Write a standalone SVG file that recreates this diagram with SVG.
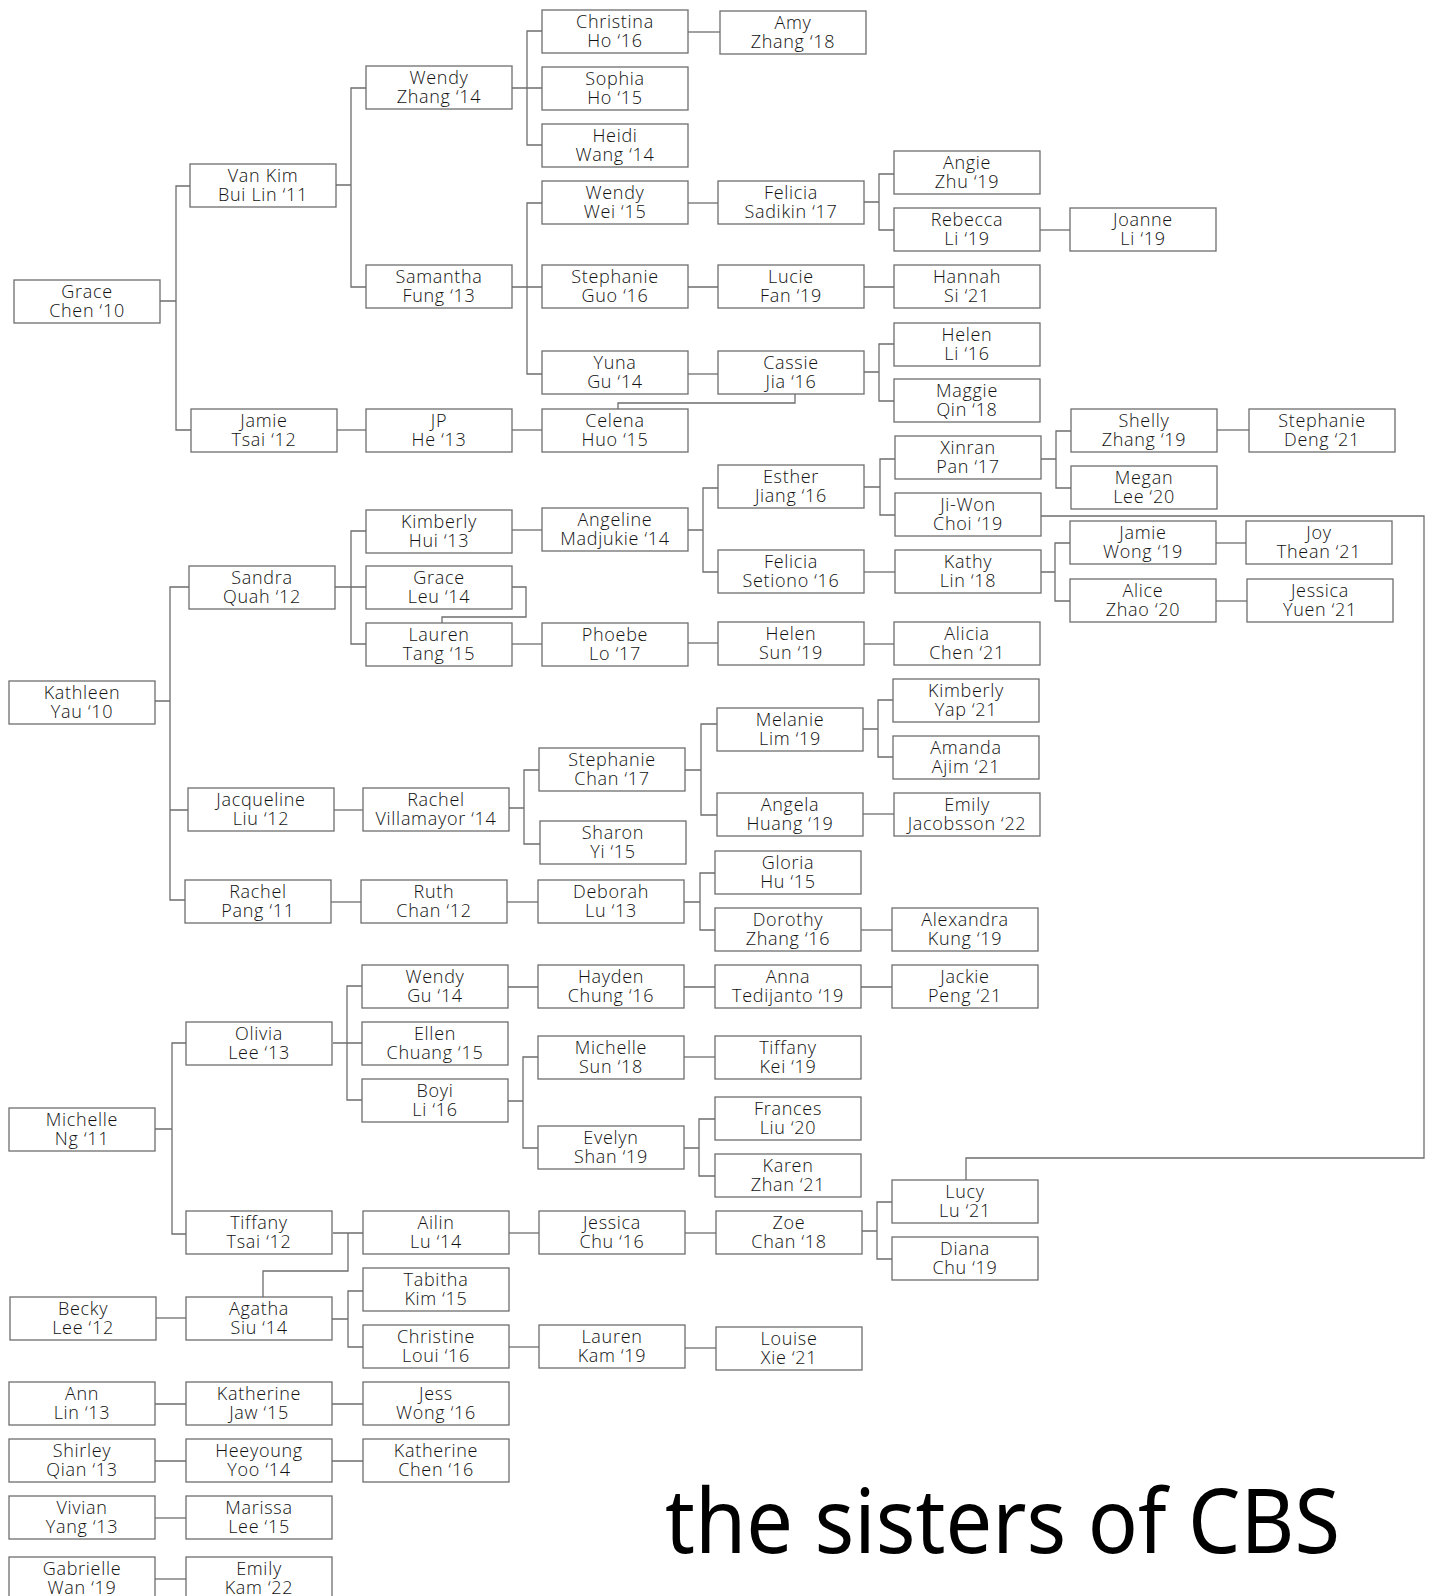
<svg xmlns="http://www.w3.org/2000/svg" width="1433" height="1596" viewBox="0 0 1433 1596">
<style>
.node rect{fill:#fff;stroke:#6e6e6e;stroke-width:1.3}
.node text{font-family:"Open Sans","Noto Sans","Liberation Sans",sans-serif;font-size:18px;font-weight:300;fill:#111;text-anchor:middle;letter-spacing:0.7px}
#connectors path{fill:none;stroke:#6e6e6e;stroke-width:1.3}
.title{font-family:"Noto Sans","DejaVu Sans",sans-serif;font-size:90px;fill:#000}
</style>
<rect width="1433" height="1596" fill="#fff"/>
<g id="connectors">
<path d="M160,301 H176 M190,186 H176 V430 H191"/>
<path d="M336,185 H351 M366,88 H351 V287 H366"/>
<path d="M337,430 H366"/>
<path d="M512,88 H527 M542,31 H527 V145 H542 M527,88 H542"/>
<path d="M688,32 H720"/>
<path d="M512,287 H527 M542,203 H527 V374 H542 M527,287 H542"/>
<path d="M688,203 H718"/>
<path d="M864,202 H879 M894,174 H879 V230 H894"/>
<path d="M1040,230 H1070"/>
<path d="M688,287 H718 M864,287 H894"/>
<path d="M688,374 H718"/>
<path d="M864,372 H879 M894,344 H879 V401 H894"/>
<path d="M795,394 V403 H618 V409"/>
<path d="M512,430 H542"/>
<path d="M1041,459 H1056 M1071,431 H1056 V488 H1071"/>
<path d="M1217,430 H1249"/>
<path d="M864,487 H880 M895,459 H880 V515 H895"/>
<path d="M1041,516 H1424 V1158 H966 V1180"/>
<path d="M688,530 H703 M718,488 H703 V572 H718"/>
<path d="M512,530 H542"/>
<path d="M335,587 H351 M366,531 H351 V644 H366 M351,587 H366"/>
<path d="M512,587 H526 V617 H442 V623"/>
<path d="M864,572 H895"/>
<path d="M1041,572 H1055 M1070,543 H1055 V601 H1070"/>
<path d="M1216,543 H1246"/>
<path d="M1216,601 H1247"/>
<path d="M512,644 H542"/>
<path d="M688,643 H718"/>
<path d="M864,644 H894"/>
<path d="M155,701 H170 M189,587 H170 V900 H185 M170,810 H188"/>
<path d="M334,810 H363"/>
<path d="M509,808 H524 M539,770 H524 V844 H540"/>
<path d="M685,770 H701 M717,724 H701 V815 H717"/>
<path d="M863,729 H878 M893,700 H878 V757 H893"/>
<path d="M863,814 H894"/>
<path d="M331,902 H361"/>
<path d="M507,902 H538"/>
<path d="M684,902 H700 M715,873 H700 V930 H715"/>
<path d="M861,930 H892"/>
<path d="M155,1129 H172 M186,1043 H172 V1234 H186"/>
<path d="M333,1043 H347 M362,986 H347 V1100 H362 M347,1043 H362"/>
<path d="M508,987 H538 M684,987 H715 M861,987 H892"/>
<path d="M508,1101 H523 M538,1057 H523 V1148 H538"/>
<path d="M684,1057 H715"/>
<path d="M684,1148 H699 M715,1119 H699 V1176 H715"/>
<path d="M333,1233 H363 M348,1233 V1271 H263 V1297"/>
<path d="M509,1233 H539"/>
<path d="M685,1233 H716"/>
<path d="M862,1231 H877 M892,1202 H877 V1259 H892"/>
<path d="M156,1318 H186"/>
<path d="M332,1319 H348 M363,1291 H348 V1347 H363"/>
<path d="M509,1347 H539"/>
<path d="M685,1348 H716"/>
<path d="M155,1404 H186 M332,1404 H363"/>
<path d="M155,1461 H186 M332,1461 H363"/>
<path d="M155,1518 H186"/>
<path d="M155,1579 H186"/>
</g>
<g id="grace-chen" class="node"><rect x="14" y="280" width="146" height="43"/><text><tspan x="87" y="298">Grace</tspan><tspan x="87" y="316.5">Chen ‘10</tspan></text></g>
<g id="van-kim-bui-lin" class="node"><rect x="190" y="164" width="146" height="43"/><text><tspan x="263" y="182">Van Kim</tspan><tspan x="263" y="200.5">Bui Lin ‘11</tspan></text></g>
<g id="jamie-tsai" class="node"><rect x="191" y="409" width="146" height="43"/><text><tspan x="264" y="427">Jamie</tspan><tspan x="264" y="445.5">Tsai ‘12</tspan></text></g>
<g id="wendy-zhang" class="node"><rect x="366" y="66" width="146" height="43"/><text><tspan x="439" y="84">Wendy</tspan><tspan x="439" y="102.5">Zhang ‘14</tspan></text></g>
<g id="samantha-fung" class="node"><rect x="366" y="265" width="146" height="43"/><text><tspan x="439" y="283">Samantha</tspan><tspan x="439" y="301.5">Fung ‘13</tspan></text></g>
<g id="jp-he" class="node"><rect x="366" y="409" width="146" height="43"/><text><tspan x="439" y="427">JP</tspan><tspan x="439" y="445.5">He ‘13</tspan></text></g>
<g id="christina-ho" class="node"><rect x="542" y="10" width="146" height="43"/><text><tspan x="615" y="28">Christina</tspan><tspan x="615" y="46.5">Ho ‘16</tspan></text></g>
<g id="sophia-ho" class="node"><rect x="542" y="67" width="146" height="43"/><text><tspan x="615" y="85">Sophia</tspan><tspan x="615" y="103.5">Ho ‘15</tspan></text></g>
<g id="heidi-wang" class="node"><rect x="542" y="124" width="146" height="43"/><text><tspan x="615" y="142">Heidi</tspan><tspan x="615" y="160.5">Wang ‘14</tspan></text></g>
<g id="wendy-wei" class="node"><rect x="542" y="181" width="146" height="43"/><text><tspan x="615" y="199">Wendy</tspan><tspan x="615" y="217.5">Wei ‘15</tspan></text></g>
<g id="stephanie-guo" class="node"><rect x="542" y="265" width="146" height="43"/><text><tspan x="615" y="283">Stephanie</tspan><tspan x="615" y="301.5">Guo ‘16</tspan></text></g>
<g id="yuna-gu" class="node"><rect x="542" y="351" width="146" height="43"/><text><tspan x="615" y="369">Yuna</tspan><tspan x="615" y="387.5">Gu ‘14</tspan></text></g>
<g id="celena-huo" class="node"><rect x="542" y="409" width="146" height="43"/><text><tspan x="615" y="427">Celena</tspan><tspan x="615" y="445.5">Huo ‘15</tspan></text></g>
<g id="amy-zhang" class="node"><rect x="720" y="11" width="146" height="43"/><text><tspan x="793" y="29">Amy</tspan><tspan x="793" y="47.5">Zhang ‘18</tspan></text></g>
<g id="felicia-sadikin" class="node"><rect x="718" y="181" width="146" height="43"/><text><tspan x="791" y="199">Felicia</tspan><tspan x="791" y="217.5">Sadikin ‘17</tspan></text></g>
<g id="lucie-fan" class="node"><rect x="718" y="265" width="146" height="43"/><text><tspan x="791" y="283">Lucie</tspan><tspan x="791" y="301.5">Fan ‘19</tspan></text></g>
<g id="cassie-jia" class="node"><rect x="718" y="351" width="146" height="43"/><text><tspan x="791" y="369">Cassie</tspan><tspan x="791" y="387.5">Jia ‘16</tspan></text></g>
<g id="angie-zhu" class="node"><rect x="894" y="151" width="146" height="43"/><text><tspan x="967" y="169">Angie</tspan><tspan x="967" y="187.5">Zhu ‘19</tspan></text></g>
<g id="rebecca-li" class="node"><rect x="894" y="208" width="146" height="43"/><text><tspan x="967" y="226">Rebecca</tspan><tspan x="967" y="244.5">Li ‘19</tspan></text></g>
<g id="hannah-si" class="node"><rect x="894" y="265" width="146" height="43"/><text><tspan x="967" y="283">Hannah</tspan><tspan x="967" y="301.5">Si ‘21</tspan></text></g>
<g id="helen-li" class="node"><rect x="894" y="323" width="146" height="43"/><text><tspan x="967" y="341">Helen</tspan><tspan x="967" y="359.5">Li ‘16</tspan></text></g>
<g id="maggie-qin" class="node"><rect x="894" y="379" width="146" height="43"/><text><tspan x="967" y="397">Maggie</tspan><tspan x="967" y="415.5">Qin ‘18</tspan></text></g>
<g id="joanne-li" class="node"><rect x="1070" y="208" width="146" height="43"/><text><tspan x="1143" y="226">Joanne</tspan><tspan x="1143" y="244.5">Li ‘19</tspan></text></g>
<g id="xinran-pan" class="node"><rect x="895" y="436" width="146" height="43"/><text><tspan x="968" y="454">Xinran</tspan><tspan x="968" y="472.5">Pan ‘17</tspan></text></g>
<g id="ji-won-choi" class="node"><rect x="895" y="493" width="146" height="43"/><text><tspan x="968" y="511">Ji-Won</tspan><tspan x="968" y="529.5">Choi ‘19</tspan></text></g>
<g id="esther-jiang" class="node"><rect x="718" y="465" width="146" height="43"/><text><tspan x="791" y="483">Esther</tspan><tspan x="791" y="501.5">Jiang ‘16</tspan></text></g>
<g id="shelly-zhang" class="node"><rect x="1071" y="409" width="146" height="43"/><text><tspan x="1144" y="427">Shelly</tspan><tspan x="1144" y="445.5">Zhang ‘19</tspan></text></g>
<g id="stephanie-deng" class="node"><rect x="1249" y="409" width="146" height="43"/><text><tspan x="1322" y="427">Stephanie</tspan><tspan x="1322" y="445.5">Deng ‘21</tspan></text></g>
<g id="megan-lee" class="node"><rect x="1071" y="466" width="146" height="43"/><text><tspan x="1144" y="484">Megan</tspan><tspan x="1144" y="502.5">Lee ‘20</tspan></text></g>
<g id="kimberly-hui" class="node"><rect x="366" y="510" width="146" height="43"/><text><tspan x="439" y="528">Kimberly</tspan><tspan x="439" y="546.5">Hui ‘13</tspan></text></g>
<g id="angeline-madjukie" class="node"><rect x="542" y="508" width="146" height="43"/><text><tspan x="615" y="526">Angeline</tspan><tspan x="615" y="544.5">Madjukie ‘14</tspan></text></g>
<g id="sandra-quah" class="node"><rect x="189" y="566" width="146" height="43"/><text><tspan x="262" y="584">Sandra</tspan><tspan x="262" y="602.5">Quah ‘12</tspan></text></g>
<g id="grace-leu" class="node"><rect x="366" y="566" width="146" height="43"/><text><tspan x="439" y="584">Grace</tspan><tspan x="439" y="602.5">Leu ‘14</tspan></text></g>
<g id="lauren-tang" class="node"><rect x="366" y="623" width="146" height="43"/><text><tspan x="439" y="641">Lauren</tspan><tspan x="439" y="659.5">Tang ‘15</tspan></text></g>
<g id="felicia-setiono" class="node"><rect x="718" y="550" width="146" height="43"/><text><tspan x="791" y="568">Felicia</tspan><tspan x="791" y="586.5">Setiono ‘16</tspan></text></g>
<g id="kathy-lin" class="node"><rect x="895" y="550" width="146" height="43"/><text><tspan x="968" y="568">Kathy</tspan><tspan x="968" y="586.5">Lin ‘18</tspan></text></g>
<g id="jamie-wong" class="node"><rect x="1070" y="521" width="146" height="43"/><text><tspan x="1143" y="539">Jamie</tspan><tspan x="1143" y="557.5">Wong ‘19</tspan></text></g>
<g id="joy-thean" class="node"><rect x="1246" y="521" width="146" height="43"/><text><tspan x="1319" y="539">Joy</tspan><tspan x="1319" y="557.5">Thean ‘21</tspan></text></g>
<g id="alice-zhao" class="node"><rect x="1070" y="579" width="146" height="43"/><text><tspan x="1143" y="597">Alice</tspan><tspan x="1143" y="615.5">Zhao ‘20</tspan></text></g>
<g id="jessica-yuen" class="node"><rect x="1247" y="579" width="146" height="43"/><text><tspan x="1320" y="597">Jessica</tspan><tspan x="1320" y="615.5">Yuen ‘21</tspan></text></g>
<g id="phoebe-lo" class="node"><rect x="542" y="623" width="146" height="43"/><text><tspan x="615" y="641">Phoebe</tspan><tspan x="615" y="659.5">Lo ‘17</tspan></text></g>
<g id="helen-sun" class="node"><rect x="718" y="622" width="146" height="43"/><text><tspan x="791" y="640">Helen</tspan><tspan x="791" y="658.5">Sun ‘19</tspan></text></g>
<g id="alicia-chen" class="node"><rect x="894" y="622" width="146" height="43"/><text><tspan x="967" y="640">Alicia</tspan><tspan x="967" y="658.5">Chen ‘21</tspan></text></g>
<g id="kathleen-yau" class="node"><rect x="9" y="681" width="146" height="43"/><text><tspan x="82" y="699">Kathleen</tspan><tspan x="82" y="717.5">Yau ‘10</tspan></text></g>
<g id="kimberly-yap" class="node"><rect x="893" y="679" width="146" height="43"/><text><tspan x="966" y="697">Kimberly</tspan><tspan x="966" y="715.5">Yap ‘21</tspan></text></g>
<g id="melanie-lim" class="node"><rect x="717" y="708" width="146" height="43"/><text><tspan x="790" y="726">Melanie</tspan><tspan x="790" y="744.5">Lim ‘19</tspan></text></g>
<g id="amanda-ajim" class="node"><rect x="893" y="736" width="146" height="43"/><text><tspan x="966" y="754">Amanda</tspan><tspan x="966" y="772.5">Ajim ‘21</tspan></text></g>
<g id="stephanie-chan" class="node"><rect x="539" y="748" width="146" height="43"/><text><tspan x="612" y="766">Stephanie</tspan><tspan x="612" y="784.5">Chan ‘17</tspan></text></g>
<g id="angela-huang" class="node"><rect x="717" y="793" width="146" height="43"/><text><tspan x="790" y="811">Angela</tspan><tspan x="790" y="829.5">Huang ‘19</tspan></text></g>
<g id="emily-jacobsson" class="node"><rect x="894" y="793" width="146" height="43"/><text><tspan x="967" y="811">Emily</tspan><tspan x="967" y="829.5">Jacobsson ‘22</tspan></text></g>
<g id="jacqueline-liu" class="node"><rect x="188" y="788" width="146" height="43"/><text><tspan x="261" y="806">Jacqueline</tspan><tspan x="261" y="824.5">Liu ‘12</tspan></text></g>
<g id="rachel-villamayor" class="node"><rect x="363" y="788" width="146" height="43"/><text><tspan x="436" y="806">Rachel</tspan><tspan x="436" y="824.5">Villamayor ‘14</tspan></text></g>
<g id="sharon-yi" class="node"><rect x="540" y="821" width="146" height="43"/><text><tspan x="613" y="839">Sharon</tspan><tspan x="613" y="857.5">Yi ‘15</tspan></text></g>
<g id="gloria-hu" class="node"><rect x="715" y="851" width="146" height="43"/><text><tspan x="788" y="869">Gloria</tspan><tspan x="788" y="887.5">Hu ‘15</tspan></text></g>
<g id="rachel-pang" class="node"><rect x="185" y="880" width="146" height="43"/><text><tspan x="258" y="898">Rachel</tspan><tspan x="258" y="916.5">Pang ‘11</tspan></text></g>
<g id="ruth-chan" class="node"><rect x="361" y="880" width="146" height="43"/><text><tspan x="434" y="898">Ruth</tspan><tspan x="434" y="916.5">Chan ‘12</tspan></text></g>
<g id="deborah-lu" class="node"><rect x="538" y="880" width="146" height="43"/><text><tspan x="611" y="898">Deborah</tspan><tspan x="611" y="916.5">Lu ‘13</tspan></text></g>
<g id="dorothy-zhang" class="node"><rect x="715" y="908" width="146" height="43"/><text><tspan x="788" y="926">Dorothy</tspan><tspan x="788" y="944.5">Zhang ‘16</tspan></text></g>
<g id="alexandra-kung" class="node"><rect x="892" y="908" width="146" height="43"/><text><tspan x="965" y="926">Alexandra</tspan><tspan x="965" y="944.5">Kung ‘19</tspan></text></g>
<g id="wendy-gu" class="node"><rect x="362" y="965" width="146" height="43"/><text><tspan x="435" y="983">Wendy</tspan><tspan x="435" y="1001.5">Gu ‘14</tspan></text></g>
<g id="hayden-chung" class="node"><rect x="538" y="965" width="146" height="43"/><text><tspan x="611" y="983">Hayden</tspan><tspan x="611" y="1001.5">Chung ‘16</tspan></text></g>
<g id="anna-tedijanto" class="node"><rect x="715" y="965" width="146" height="43"/><text><tspan x="788" y="983">Anna</tspan><tspan x="788" y="1001.5">Tedijanto ‘19</tspan></text></g>
<g id="jackie-peng" class="node"><rect x="892" y="965" width="146" height="43"/><text><tspan x="965" y="983">Jackie</tspan><tspan x="965" y="1001.5">Peng ‘21</tspan></text></g>
<g id="olivia-lee" class="node"><rect x="186" y="1022" width="146" height="43"/><text><tspan x="259" y="1040">Olivia</tspan><tspan x="259" y="1058.5">Lee ‘13</tspan></text></g>
<g id="ellen-chuang" class="node"><rect x="362" y="1022" width="146" height="43"/><text><tspan x="435" y="1040">Ellen</tspan><tspan x="435" y="1058.5">Chuang ‘15</tspan></text></g>
<g id="michelle-sun" class="node"><rect x="538" y="1036" width="146" height="43"/><text><tspan x="611" y="1054">Michelle</tspan><tspan x="611" y="1072.5">Sun ‘18</tspan></text></g>
<g id="tiffany-kei" class="node"><rect x="715" y="1036" width="146" height="43"/><text><tspan x="788" y="1054">Tiffany</tspan><tspan x="788" y="1072.5">Kei ‘19</tspan></text></g>
<g id="boyi-li" class="node"><rect x="362" y="1079" width="146" height="43"/><text><tspan x="435" y="1097">Boyi</tspan><tspan x="435" y="1115.5">Li ‘16</tspan></text></g>
<g id="frances-liu" class="node"><rect x="715" y="1097" width="146" height="43"/><text><tspan x="788" y="1115">Frances</tspan><tspan x="788" y="1133.5">Liu ‘20</tspan></text></g>
<g id="michelle-ng" class="node"><rect x="9" y="1108" width="146" height="43"/><text><tspan x="82" y="1126">Michelle</tspan><tspan x="82" y="1144.5">Ng ‘11</tspan></text></g>
<g id="evelyn-shan" class="node"><rect x="538" y="1126" width="146" height="43"/><text><tspan x="611" y="1144">Evelyn</tspan><tspan x="611" y="1162.5">Shan ‘19</tspan></text></g>
<g id="karen-zhan" class="node"><rect x="715" y="1154" width="146" height="43"/><text><tspan x="788" y="1172">Karen</tspan><tspan x="788" y="1190.5">Zhan ‘21</tspan></text></g>
<g id="lucy-lu" class="node"><rect x="892" y="1180" width="146" height="43"/><text><tspan x="965" y="1198">Lucy</tspan><tspan x="965" y="1216.5">Lu ‘21</tspan></text></g>
<g id="tiffany-tsai" class="node"><rect x="186" y="1211" width="146" height="43"/><text><tspan x="259" y="1229">Tiffany</tspan><tspan x="259" y="1247.5">Tsai ‘12</tspan></text></g>
<g id="ailin-lu" class="node"><rect x="363" y="1211" width="146" height="43"/><text><tspan x="436" y="1229">Ailin</tspan><tspan x="436" y="1247.5">Lu ‘14</tspan></text></g>
<g id="jessica-chu" class="node"><rect x="539" y="1211" width="146" height="43"/><text><tspan x="612" y="1229">Jessica</tspan><tspan x="612" y="1247.5">Chu ‘16</tspan></text></g>
<g id="zoe-chan" class="node"><rect x="716" y="1211" width="146" height="43"/><text><tspan x="789" y="1229">Zoe</tspan><tspan x="789" y="1247.5">Chan ‘18</tspan></text></g>
<g id="diana-chu" class="node"><rect x="892" y="1237" width="146" height="43"/><text><tspan x="965" y="1255">Diana</tspan><tspan x="965" y="1273.5">Chu ‘19</tspan></text></g>
<g id="tabitha-kim" class="node"><rect x="363" y="1268" width="146" height="43"/><text><tspan x="436" y="1286">Tabitha</tspan><tspan x="436" y="1304.5">Kim ‘15</tspan></text></g>
<g id="becky-lee" class="node"><rect x="10" y="1297" width="146" height="43"/><text><tspan x="83" y="1315">Becky</tspan><tspan x="83" y="1333.5">Lee ‘12</tspan></text></g>
<g id="agatha-siu" class="node"><rect x="186" y="1297" width="146" height="43"/><text><tspan x="259" y="1315">Agatha</tspan><tspan x="259" y="1333.5">Siu ‘14</tspan></text></g>
<g id="christine-loui" class="node"><rect x="363" y="1325" width="146" height="43"/><text><tspan x="436" y="1343">Christine</tspan><tspan x="436" y="1361.5">Loui ‘16</tspan></text></g>
<g id="lauren-kam" class="node"><rect x="539" y="1325" width="146" height="43"/><text><tspan x="612" y="1343">Lauren</tspan><tspan x="612" y="1361.5">Kam ‘19</tspan></text></g>
<g id="louise-xie" class="node"><rect x="716" y="1327" width="146" height="43"/><text><tspan x="789" y="1345">Louise</tspan><tspan x="789" y="1363.5">Xie ‘21</tspan></text></g>
<g id="ann-lin" class="node"><rect x="9" y="1382" width="146" height="43"/><text><tspan x="82" y="1400">Ann</tspan><tspan x="82" y="1418.5">Lin ‘13</tspan></text></g>
<g id="katherine-jaw" class="node"><rect x="186" y="1382" width="146" height="43"/><text><tspan x="259" y="1400">Katherine</tspan><tspan x="259" y="1418.5">Jaw ‘15</tspan></text></g>
<g id="jess-wong" class="node"><rect x="363" y="1382" width="146" height="43"/><text><tspan x="436" y="1400">Jess</tspan><tspan x="436" y="1418.5">Wong ‘16</tspan></text></g>
<g id="shirley-qian" class="node"><rect x="9" y="1439" width="146" height="43"/><text><tspan x="82" y="1457">Shirley</tspan><tspan x="82" y="1475.5">Qian ‘13</tspan></text></g>
<g id="heeyoung-yoo" class="node"><rect x="186" y="1439" width="146" height="43"/><text><tspan x="259" y="1457">Heeyoung</tspan><tspan x="259" y="1475.5">Yoo ‘14</tspan></text></g>
<g id="katherine-chen" class="node"><rect x="363" y="1439" width="146" height="43"/><text><tspan x="436" y="1457">Katherine</tspan><tspan x="436" y="1475.5">Chen ‘16</tspan></text></g>
<g id="vivian-yang" class="node"><rect x="9" y="1496" width="146" height="43"/><text><tspan x="82" y="1514">Vivian</tspan><tspan x="82" y="1532.5">Yang ‘13</tspan></text></g>
<g id="marissa-lee" class="node"><rect x="186" y="1496" width="146" height="43"/><text><tspan x="259" y="1514">Marissa</tspan><tspan x="259" y="1532.5">Lee ‘15</tspan></text></g>
<g id="gabrielle-wan" class="node"><rect x="9" y="1557" width="146" height="43"/><text><tspan x="82" y="1575">Gabrielle</tspan><tspan x="82" y="1593.5">Wan ‘19</tspan></text></g>
<g id="emily-kam" class="node"><rect x="186" y="1557" width="146" height="43"/><text><tspan x="259" y="1575">Emily</tspan><tspan x="259" y="1593.5">Kam ‘22</tspan></text></g>
<text class="title" x="665" y="1553" textLength="675" lengthAdjust="spacingAndGlyphs">the sisters of CBS</text>
</svg>
